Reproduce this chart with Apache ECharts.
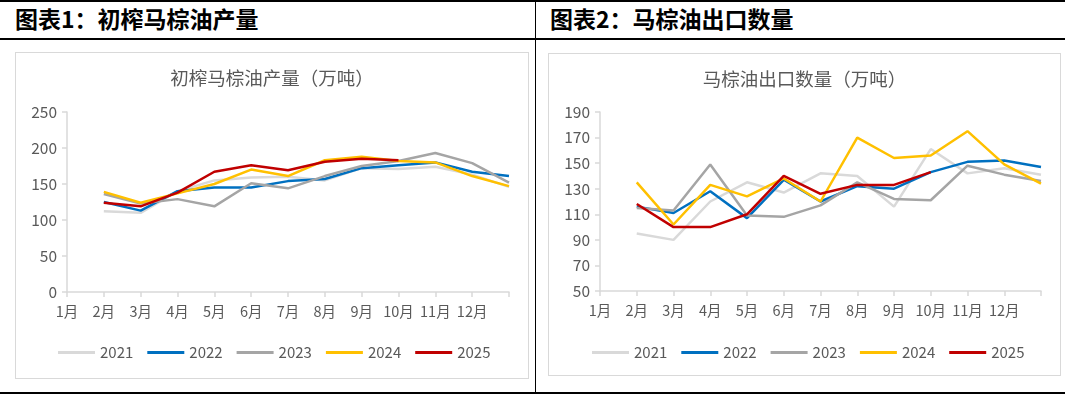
<!DOCTYPE html>
<html>
<head>
<meta charset="utf-8">
<script src="https://cdn.jsdelivr.net/npm/echarts@6/dist/echarts.min.js"></script>
<style>
  html, body { margin: 0; padding: 0; background: #fff; }
  body { width: 1065px; height: 400px; position: relative; overflow: hidden;
         font-family: "Noto Sans CJK SC", "Noto Sans", sans-serif; }
  .hline { position: absolute; left: 0; width: 1065px; height: 2px; background: #000; }
  .vline { position: absolute; left: 535px; top: 0; width: 1px; height: 394px; background: #000; }
  .head { position: absolute; top: 5px; font-size: 23px; font-weight: bold; color: #000; line-height: 27px; }
  .box { position: absolute; border: 1.5px solid #d9d9d9; box-sizing: border-box; }
</style>
</head>
<body>
<div class="hline" style="top:0px"></div>
<div class="hline" style="top:38px"></div>
<div class="hline" style="top:392px"></div>
<div class="vline"></div>
<div class="head" style="left:15px">图表1：初榨马棕油产量</div>
<div class="head" style="left:550px">图表2：马棕油出口数量</div>
<div class="box" id="c1" style="left:15px;top:52px;width:514px;height:327px"></div>
<div class="box" id="c2" style="left:548px;top:53px;width:513px;height:323px"></div>
<script>
// x-axis tick labels (13 tick positions; last one unlabeled)
var monthLabels = ['1月','2月','3月','4月','5月','6月','7月','8月','9月','10月','11月','12月',''];
var years = ['2021','2022','2023','2024','2025'];
var colors = ['#d9d9d9','#0070c0','#a5a5a5','#ffc000','#c00000'];

// Chart 1: 初榨马棕油产量（万吨）, Jan..Dec
var prod2021 = [112, 110, 140, 155, 159, 160, 155, 172, 171, 174, 163, 146];
var prod2022 = [125, 113, 140, 145, 145, 154, 157, 172, 176, 180, 167, 161];
var prod2023 = [136, 123, 129, 119, 151, 144, 161, 175, 182, 193, 179, 152];
var prod2024 = [139, 124, 137, 150, 170, 161, 183, 188, 182, 180, 161, 147];
var prod2025 = [124, 119, 138, 167, 176, 169, 181, 185, 183];

// Chart 2: 马棕油出口数量（万吨）, Jan..Dec
var exp2021 = [95, 90, 120, 135, 127, 142, 140, 116, 161, 142, 146, 141];
var exp2022 = [116, 111, 128, 107, 137, 120, 132, 130, 143, 151, 152, 147];
var exp2023 = [115, 113, 149, 109, 108, 117, 135, 122, 121, 148, 141, 136];
var exp2024 = [135, 102, 133, 124, 138, 120, 170, 154, 156, 175, 149, 134];
var exp2025 = [118, 100, 100, 110, 140, 126, 133, 133, 143];

var prodData = [prod2021, prod2022, prod2023, prod2024, prod2025];
var expData = [exp2021, exp2022, exp2023, exp2024, exp2025];

var txt = '#595959';
var axisCol = '#d9d9d9';

function build(title, dataSets, yMin, yMax, yInt, grid, legendTop, legendLeft) {
  return {
    animation: false,
    color: colors,
    title: {
      text: title, left: 'center', top: 11,
      textStyle: { color: txt, fontSize: 18.5, fontWeight: 'normal', fontFamily: 'Noto Sans CJK SC' }
    },
    legend: {
      data: years, top: legendTop, left: legendLeft,
      icon: 'rect', itemWidth: 37, itemHeight: 3, itemGap: 14,
      textStyle: { color: txt, fontSize: 15, fontFamily: 'Noto Sans CJK SC' }
    },
    grid: grid,
    xAxis: {
      type: 'category', data: monthLabels, boundaryGap: false,
      axisLine: { lineStyle: { color: axisCol, width: 1.5 } },
      axisTick: { show: true, length: 5, lineStyle: { color: axisCol, width: 1.5 } },
      axisLabel: { color: txt, fontSize: 14.5, margin: 12, interval: 0, fontFamily: 'Noto Sans CJK SC' },
      splitLine: { show: false }
    },
    yAxis: {
      type: 'value', min: yMin, max: yMax, interval: yInt,
      axisLine: { show: true, lineStyle: { color: axisCol, width: 1.5 } },
      axisTick: { show: true, length: 5, lineStyle: { color: axisCol, width: 1.5 } },
      axisLabel: { color: txt, fontSize: 15.5, margin: 10, fontFamily: 'Noto Sans CJK SC' },
      splitLine: { show: false }
    },
    series: dataSets.map(function (d, i) {
      return {
        name: years[i], type: 'line', data: [null].concat(d),
        symbol: 'none', smooth: false, connectNulls: false,
        lineStyle: { width: 2.5, color: colors[i] }, z: 2 + i
      };
    })
  };
}

var c1 = echarts.init(document.getElementById('c1'));
c1.setOption(build('初榨马棕油产量（万吨）', prodData, 0, 250, 50,
  { left: 51, right: 19, top: 59, bottom: 86 }, 287, 37));

var c2 = echarts.init(document.getElementById('c2'));
c2.setOption(build('马棕油出口数量（万吨）', expData, 50, 190, 20,
  { left: 51, right: 19, top: 58, bottom: 84 }, 286, 38));
</script>
</body>
</html>
